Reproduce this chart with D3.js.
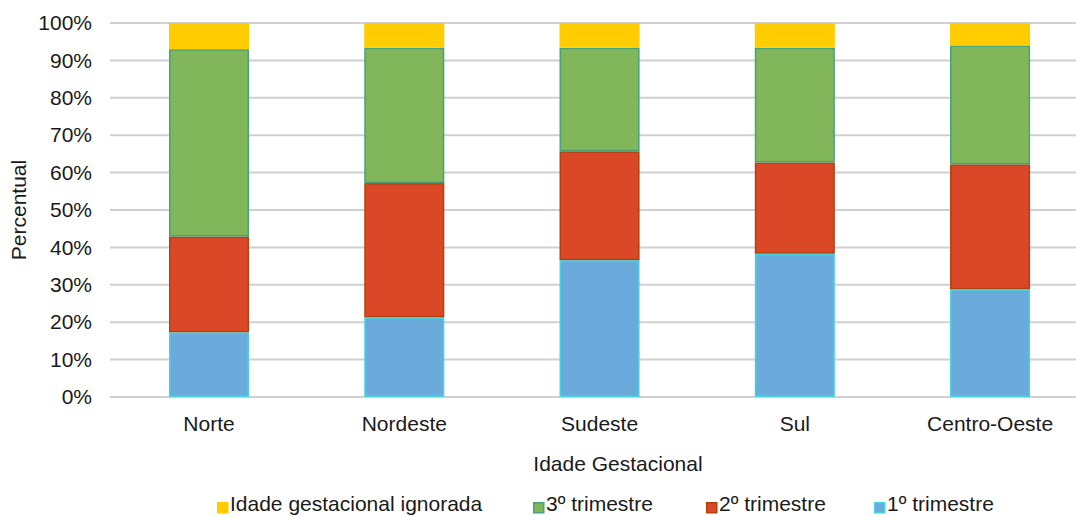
<!DOCTYPE html>
<html>
<head>
<meta charset="utf-8">
<script src="https://cdn.jsdelivr.net/npm/d3@7"></script>
<style>
  html, body { margin: 0; padding: 0; background: #fff; }
  svg { display: block; }
  text { font-family: "Liberation Sans", Arial, sans-serif; fill: #1a1a1a; }
</style>
</head>
<body>
<svg id="chart" width="1076" height="516"></svg>
<script>
// Regions and share (%) of each gestational-age group
const regions = ["Norte", "Nordeste", "Sudeste", "Sul", "Centro-Oeste"];
const primeiro = [17.3, 21.3, 36.6, 38.3, 28.8];
const segundo  = [25.6, 35.9, 29.1, 24.4, 33.4];
const terceiro = [50.1, 36.2, 27.7, 30.7, 31.8];
const ignorada = [7.0, 6.6, 6.6, 6.6, 6.0];
const yTicks = [0, 10, 20, 30, 40, 50, 60, 70, 80, 90, 100];

// Stack order from the bottom up
const seriesDefs = [
  { key: "1º trimestre", values: primeiro, fill: "#6aabdb", stroke: "#45d3df" },
  { key: "2º trimestre", values: segundo,  fill: "#db4827", stroke: "#b0420f" },
  { key: "3º trimestre", values: terceiro, fill: "#82b65a", stroke: "#47a27a" },
  { key: "Idade gestacional ignorada", values: ignorada, fill: "#ffcc00", stroke: "#ffcc00" }
];

const rows = regions.map((r, i) => {
  const o = { region: r };
  seriesDefs.forEach(s => { o[s.key] = s.values[i]; });
  return o;
});

const svg = d3.select("#chart");
const fontSize = 21;

const x = d3.scaleBand()
  .domain(regions)
  .range([111.4, 1087.7])
  .paddingInner(0.59)
  .paddingOuter(0.295);

const y = d3.scaleLinear().domain([0, 100]).range([397, 23]);

// Horizontal gridlines
svg.append("g")
  .selectAll("line")
  .data(yTicks)
  .join("line")
  .attr("x1", 110)
  .attr("x2", 1090)
  .attr("y1", d => y(d))
  .attr("y2", d => y(d))
  .attr("stroke", "#d0d0d0")
  .attr("stroke-width", 2);

// Y axis labels
const yAxis = d3.axisLeft(y).tickValues(yTicks).tickFormat(d => d + "%").tickSize(0).tickPadding(0);
svg.append("g")
  .attr("transform", "translate(92,0)")
  .call(yAxis)
  .call(g => g.select(".domain").remove())
  .selectAll("text")
  .attr("font-size", fontSize)
  .attr("font-family", "Liberation Sans, Arial, sans-serif")
  .attr("fill", "#1a1a1a");

// Stacked bars
const stack = d3.stack().keys(seriesDefs.map(s => s.key));
const stacked = stack(rows);

svg.append("g")
  .selectAll("g")
  .data(stacked)
  .join("g")
  .attr("fill", (d, i) => seriesDefs[i].fill)
  .attr("stroke", (d, i) => seriesDefs[i].stroke)
  .attr("stroke-width", 1.5)
  .selectAll("rect")
  .data(d => d)
  .join("rect")
  .attr("x", d => x(d.data.region) + 0.75)
  .attr("width", x.bandwidth() - 1.5)
  .attr("y", d => y(d[1]) + 0.75)
  .attr("height", d => Math.max(0, y(d[0]) - y(d[1]) - 1.5));

// X axis labels
const xAxis = d3.axisBottom(x).tickSize(0).tickPadding(0);
svg.append("g")
  .attr("transform", "translate(0,416)")
  .call(xAxis)
  .call(g => g.select(".domain").remove())
  .selectAll("text")
  .attr("font-size", fontSize)
  .attr("font-family", "Liberation Sans, Arial, sans-serif")
  .attr("fill", "#1a1a1a");

// Axis titles
svg.append("text")
  .attr("x", 618)
  .attr("y", 471)
  .attr("text-anchor", "middle")
  .attr("font-size", fontSize)
  .text("Idade Gestacional");

svg.append("text")
  .attr("transform", "translate(26,210) rotate(-90)")
  .attr("text-anchor", "middle")
  .attr("font-size", fontSize)
  .text("Percentual");

// Legend
const legendItems = [
  { def: seriesDefs[3], x: 217 },
  { def: seriesDefs[2], x: 533 },
  { def: seriesDefs[1], x: 706 },
  { def: seriesDefs[0], x: 874 }
];
const lg = svg.append("g").selectAll("g")
  .data(legendItems)
  .join("g")
  .attr("transform", d => `translate(${d.x},0)`);
lg.append("rect")
  .attr("x", 0.75).attr("y", 502.75)
  .attr("width", 10).attr("height", 10)
  .attr("fill", d => d.def.fill)
  .attr("stroke", d => d.def.stroke)
  .attr("stroke-width", 1.5);
lg.append("text")
  .attr("x", 13)
  .attr("y", 511)
  .attr("font-size", fontSize)
  .text(d => d.def.key);
</script>
</body>
</html>
